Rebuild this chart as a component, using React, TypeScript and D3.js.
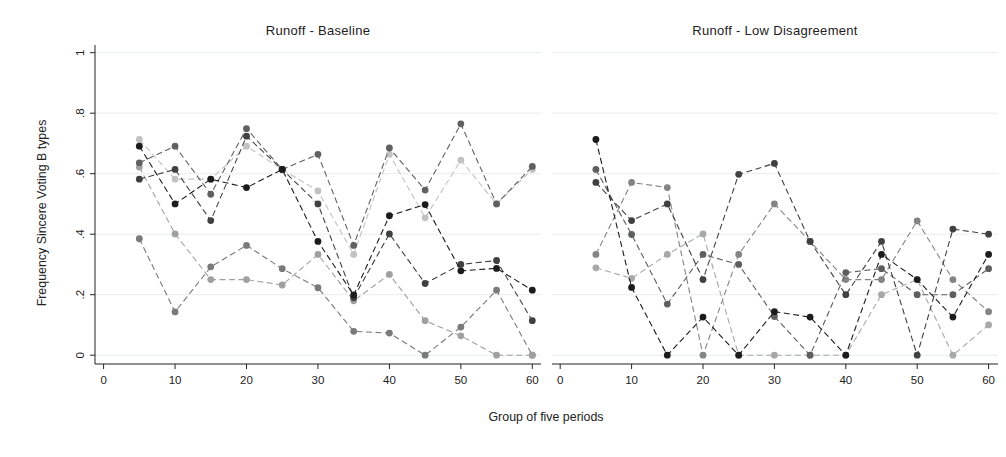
import React from "react";
import * as d3 from "d3";

const periods = [5, 10, 15, 20, 25, 30, 35, 40, 45, 50, 55, 60];
const xTicks = [0, 10, 20, 30, 40, 50, 60];
const yTicks = [0, 0.2, 0.4, 0.6, 0.8, 1];
const yTickLabels = ["0", ".2", ".4", ".6", ".8", "1"];
const panelTitles = ["Runoff - Baseline", "Runoff - Low Disagreement"];

// Runoff - Baseline
const baseMidGray = [0.385, 0.143, 0.292, 0.363, 0.286, 0.223, 0.079, 0.073, 0, 0.093, 0.215, 0];
const baseGray = [0.622, 0.401, 0.25, 0.25, 0.232, 0.333, 0.18, 0.267, 0.114, 0.064, 0, 0];
const baseLight = [0.713, 0.582, 0.582, 0.691, 0.614, 0.543, 0.333, 0.664, 0.454, 0.645, 0.5, 0.614];
const baseDarkGray = [0.636, 0.691, 0.532, 0.749, 0.614, 0.664, 0.363, 0.685, 0.546, 0.765, 0.5, 0.624];
const baseDark = [0.582, 0.614, 0.445, 0.724, 0.614, 0.5, 0.19, 0.401, 0.237, 0.3, 0.313, 0.114];
const baseBlack = [0.691, 0.5, 0.582, 0.554, 0.614, 0.376, 0.199, 0.461, 0.498, 0.279, 0.287, 0.215];

// Runoff - Low Disagreement
const lowLight = [0.289, 0.254, 0.333, 0.401, 0, 0, 0, 0, 0.2, 0.25, 0, 0.1];
const lowGray = [0.333, 0.571, 0.554, 0, 0.333, 0.5, 0.376, 0.25, 0.25, 0.444, 0.25, 0.144];
const lowDarkGray = [0.614, 0.399, 0.169, 0.333, 0.3, 0.128, 0, 0.273, 0.286, 0.2, 0.2, 0.286];
const lowDark = [0.571, 0.445, 0.5, 0.25, 0.598, 0.634, 0.376, 0.2, 0.376, 0, 0.417, 0.4];
const lowBlack = [0.713, 0.224, 0, 0.126, 0, 0.144, 0.126, 0, 0.333, 0.25, 0.126, 0.333];

const baseSeries = [
  { values: baseMidGray, color: "#7a7a7a" },
  { values: baseGray, color: "#a0a0a0" },
  { values: baseLight, color: "#c2c2c2" },
  { values: baseDarkGray, color: "#606060" },
  { values: baseDark, color: "#404040" },
  { values: baseBlack, color: "#1c1c1c" },
];
const lowSeries = [
  { values: lowLight, color: "#a8a8a8" },
  { values: lowGray, color: "#848484" },
  { values: lowDarkGray, color: "#5e5e5e" },
  { values: lowDark, color: "#404040" },
  { values: lowBlack, color: "#1c1c1c" },
];

const W = 1006;
const H = 457;
const FONT = "'Liberation Sans', Arial, sans-serif";

const y = d3.scaleLinear().domain([0, 1]).range([355.2, 52.7]);
const plotTop = 45;
const plotBottom = 364;

const panels = [
  { x0: 95, x1: 541, x: d3.scaleLinear().domain([0, 60]).range([103.6, 532.3]), series: baseSeries, axis: true },
  { x0: 552, x1: 998, x: d3.scaleLinear().domain([0, 60]).range([560.2, 988.6]), series: lowSeries, axis: false },
];

export default function App() {
  return (
    <svg width={W} height={H} style={{ position: "absolute", left: 0, top: 0, background: "#fff" }} fontFamily={FONT}>
      <rect x={0} y={0} width={W} height={H} fill="#fff" />
      {panels.map((p, pi) => {
        const line = d3
          .line<number>()
          .x((_, i) => p.x(periods[i]))
          .y((d) => y(d));
        return (
          <g key={pi}>
            <text x={(p.x0 + p.x1) / 2} y={35} fontSize={13} letterSpacing={0.3} textAnchor="middle" fill="#222">
              {panelTitles[pi]}
            </text>
            {yTicks.map((t) => (
              <line key={t} x1={p.x0} x2={p.x1} y1={y(t)} y2={y(t)} stroke="#e6eeed" strokeWidth={1} />
            ))}
            {p.series.map((s, si) => (
              <g key={si}>
                <path d={line(s.values) || ""} fill="none" stroke={s.color} strokeWidth={1.1} strokeDasharray="6,3.5" />
                {s.values.map((v, i) => (
                  <circle key={i} cx={p.x(periods[i])} cy={y(v)} r={3.4} fill={s.color} />
                ))}
              </g>
            ))}
            <line x1={p.x0} x2={p.x1} y1={plotBottom} y2={plotBottom} stroke="#222" strokeWidth={1} />
            {xTicks.map((t) => (
              <g key={t}>
                <line x1={p.x(t)} x2={p.x(t)} y1={plotBottom} y2={plotBottom + 5} stroke="#222" strokeWidth={1} />
                <text x={p.x(t)} y={383.5} fontSize={11.5} textAnchor="middle" fill="#222">
                  {t}
                </text>
              </g>
            ))}
            {p.axis && (
              <g>
                <line x1={p.x0} x2={p.x0} y1={plotTop} y2={plotBottom} stroke="#222" strokeWidth={1} />
                {yTicks.map((t, i) => (
                  <g key={t}>
                    <line x1={p.x0 - 5} x2={p.x0} y1={y(t)} y2={y(t)} stroke="#222" strokeWidth={1} />
                    <text
                      transform={`translate(84,${y(t)}) rotate(-90)`}
                      fontSize={11.5}
                      textAnchor="middle"
                      fill="#222"
                    >
                      {yTickLabels[i]}
                    </text>
                  </g>
                ))}
              </g>
            )}
          </g>
        );
      })}
      <text x={546} y={420.5} fontSize={12.4} textAnchor="middle" fill="#222">
        Group of five periods
      </text>
      <text transform={`translate(46,213) rotate(-90)`} fontSize={12.4} textAnchor="middle" fill="#222">
        Frequency Sincere Voting B types
      </text>
    </svg>
  );
}
